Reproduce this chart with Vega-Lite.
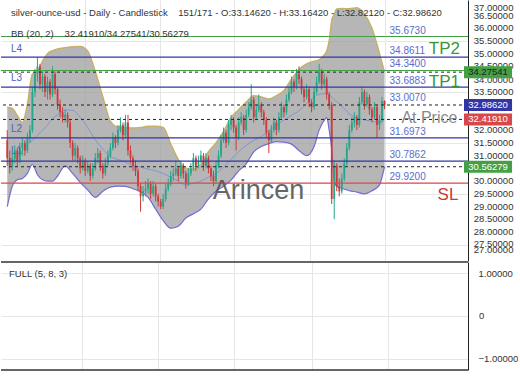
{
  "$schema": "https://vega.github.io/schema/vega-lite/v6.json",
  "padding": 0,
  "spacing": 0,
  "background": "white",
  "config": {
    "view": {"stroke": null},
    "font": "Liberation Sans",
    "axis": {"gridColor": "#e6e6e6", "domainColor": "#222222", "ticks": false, "title": null, "labels": false}
  },
  "datasets": {
    "ohlc": [
      {"i":0,"o":31.6,"h":32.0,"l":30.6,"c":30.9},{"i":1,"o":30.9,"h":31.2,"l":30.3,"c":30.6},{"i":2,"o":30.6,"h":31.1,"l":30.4,"c":30.9},{"i":3,"o":30.9,"h":31.4,"l":30.7,"c":31.2},{"i":4,"o":31.2,"h":31.3,"l":30.6,"c":30.8},
      {"i":5,"o":30.8,"h":31.5,"l":30.7,"c":31.3},{"i":6,"o":31.3,"h":31.7,"l":31.0,"c":31.5},{"i":7,"o":31.5,"h":31.6,"l":31.0,"c":31.2},{"i":8,"o":31.2,"h":31.9,"l":31.1,"c":31.7},{"i":9,"o":31.7,"h":32.2,"l":31.5,"c":32.0},
      {"i":10,"o":32.0,"h":33.7,"l":31.9,"c":33.5},{"i":11,"o":33.5,"h":34.4,"l":33.3,"c":34.2},{"i":12,"o":34.2,"h":34.85,"l":33.9,"c":34.5},{"i":13,"o":34.5,"h":34.6,"l":33.6,"c":33.8},{"i":14,"o":33.8,"h":34.3,"l":33.5,"c":34.1},
      {"i":15,"o":34.1,"h":34.2,"l":33.3,"c":33.5},{"i":16,"o":33.5,"h":34.1,"l":33.2,"c":33.9},{"i":17,"o":33.9,"h":34.0,"l":33.2,"c":33.4},{"i":18,"o":33.4,"h":34.5,"l":33.3,"c":34.2},{"i":19,"o":34.2,"h":34.3,"l":33.4,"c":33.6},
      {"i":20,"o":33.6,"h":33.7,"l":32.8,"c":33.0},{"i":21,"o":33.0,"h":33.2,"l":32.5,"c":32.7},{"i":22,"o":32.7,"h":32.9,"l":32.3,"c":32.5},{"i":23,"o":32.5,"h":32.8,"l":32.3,"c":32.6},{"i":24,"o":32.6,"h":32.7,"l":32.1,"c":32.3},
      {"i":25,"o":32.3,"h":32.4,"l":31.3,"c":31.5},{"i":26,"o":31.5,"h":31.6,"l":30.8,"c":31.0},{"i":27,"o":31.0,"h":31.5,"l":30.8,"c":31.3},{"i":28,"o":31.3,"h":31.4,"l":30.7,"c":30.9},{"i":29,"o":30.9,"h":31.0,"l":30.3,"c":30.5},
      {"i":30,"o":30.5,"h":31.0,"l":30.4,"c":30.8},{"i":31,"o":30.8,"h":30.9,"l":30.2,"c":30.4},{"i":32,"o":30.4,"h":30.8,"l":30.3,"c":30.6},{"i":33,"o":30.6,"h":30.7,"l":30.0,"c":30.2},{"i":34,"o":30.2,"h":30.7,"l":30.1,"c":30.5},
      {"i":35,"o":30.5,"h":31.1,"l":30.4,"c":30.9},{"i":36,"o":30.9,"h":31.3,"l":30.7,"c":31.1},{"i":37,"o":31.1,"h":31.2,"l":30.4,"c":30.6},{"i":38,"o":30.6,"h":30.7,"l":30.1,"c":30.3},{"i":39,"o":30.3,"h":30.9,"l":30.2,"c":30.7},
      {"i":40,"o":30.7,"h":31.2,"l":30.6,"c":31.0},{"i":41,"o":31.0,"h":31.5,"l":30.9,"c":31.3},{"i":42,"o":31.3,"h":31.9,"l":31.2,"c":31.7},{"i":43,"o":31.7,"h":31.8,"l":31.3,"c":31.5},{"i":44,"o":31.5,"h":32.2,"l":31.4,"c":32.0},
      {"i":45,"o":32.0,"h":32.5,"l":31.9,"c":32.2},{"i":46,"o":32.2,"h":32.3,"l":31.6,"c":31.8},{"i":47,"o":31.8,"h":32.6,"l":31.7,"c":32.3},{"i":48,"o":32.3,"h":32.6,"l":31.0,"c":31.2},{"i":49,"o":31.2,"h":31.4,"l":30.7,"c":30.9},
      {"i":50,"o":30.9,"h":31.0,"l":30.4,"c":30.6},{"i":51,"o":30.6,"h":30.8,"l":30.2,"c":30.4},{"i":52,"o":30.4,"h":30.5,"l":29.6,"c":29.8},{"i":53,"o":29.8,"h":29.9,"l":28.8,"c":29.4},{"i":54,"o":29.4,"h":29.8,"l":29.2,"c":29.6},
      {"i":55,"o":29.6,"h":30.0,"l":29.4,"c":29.7},{"i":56,"o":29.7,"h":30.1,"l":29.5,"c":29.9},{"i":57,"o":29.9,"h":30.0,"l":29.3,"c":29.5},{"i":58,"o":29.5,"h":30.0,"l":29.4,"c":29.8},{"i":59,"o":29.8,"h":29.9,"l":29.2,"c":29.4},
      {"i":60,"o":29.4,"h":29.5,"l":29.0,"c":29.2},{"i":61,"o":29.2,"h":29.3,"l":28.9,"c":29.0},{"i":62,"o":29.0,"h":29.5,"l":28.9,"c":29.3},{"i":63,"o":29.3,"h":29.9,"l":29.2,"c":29.7},{"i":64,"o":29.7,"h":30.1,"l":29.6,"c":29.9},
      {"i":65,"o":29.9,"h":30.4,"l":29.8,"c":30.2},{"i":66,"o":30.2,"h":30.5,"l":30.0,"c":30.3},{"i":67,"o":30.3,"h":30.8,"l":30.2,"c":30.5},{"i":68,"o":30.5,"h":30.6,"l":30.0,"c":30.2},{"i":69,"o":30.2,"h":30.8,"l":30.1,"c":30.6},
      {"i":70,"o":30.6,"h":30.7,"l":30.1,"c":30.3},{"i":71,"o":30.3,"h":30.4,"l":29.7,"c":29.9},{"i":72,"o":29.9,"h":30.5,"l":29.8,"c":30.3},{"i":73,"o":30.3,"h":30.7,"l":30.2,"c":30.5},{"i":74,"o":30.5,"h":31.1,"l":30.4,"c":30.9},
      {"i":75,"o":30.9,"h":31.0,"l":30.4,"c":30.6},{"i":76,"o":30.6,"h":31.0,"l":30.5,"c":30.8},{"i":77,"o":30.8,"h":31.2,"l":30.7,"c":31.0},{"i":78,"o":31.0,"h":31.1,"l":30.4,"c":30.6},{"i":79,"o":30.6,"h":31.1,"l":30.5,"c":30.9},
      {"i":80,"o":30.9,"h":31.0,"l":30.3,"c":30.5},{"i":81,"o":30.5,"h":30.6,"l":30.0,"c":30.2},{"i":82,"o":30.2,"h":30.4,"l":29.8,"c":30.0},{"i":83,"o":30.0,"h":30.8,"l":29.9,"c":30.6},{"i":84,"o":30.6,"h":31.2,"l":30.5,"c":31.0},
      {"i":85,"o":31.0,"h":31.8,"l":30.9,"c":31.6},{"i":86,"o":31.6,"h":32.1,"l":31.5,"c":31.9},{"i":87,"o":31.9,"h":32.0,"l":31.3,"c":31.5},{"i":88,"o":31.5,"h":32.4,"l":31.4,"c":32.2},{"i":89,"o":32.2,"h":32.6,"l":32.0,"c":32.4},
      {"i":90,"o":32.4,"h":32.5,"l":31.9,"c":32.1},{"i":91,"o":32.1,"h":32.2,"l":31.2,"c":31.7},{"i":92,"o":31.7,"h":32.5,"l":31.6,"c":32.3},{"i":93,"o":32.3,"h":32.7,"l":32.2,"c":32.5},{"i":94,"o":32.5,"h":32.6,"l":31.8,"c":32.0},
      {"i":95,"o":32.0,"h":32.8,"l":31.9,"c":32.6},{"i":96,"o":32.6,"h":33.1,"l":32.5,"c":32.9},{"i":97,"o":32.9,"h":33.8,"l":32.8,"c":33.2},{"i":98,"o":33.2,"h":33.3,"l":32.3,"c":32.5},{"i":99,"o":32.5,"h":33.0,"l":32.4,"c":32.8},
      {"i":100,"o":32.8,"h":33.4,"l":32.7,"c":33.0},{"i":101,"o":33.0,"h":33.1,"l":32.5,"c":32.7},{"i":102,"o":32.7,"h":32.8,"l":32.2,"c":32.4},{"i":103,"o":32.4,"h":32.5,"l":31.7,"c":31.9},{"i":104,"o":31.9,"h":32.0,"l":31.1,"c":31.6},
      {"i":105,"o":31.6,"h":32.2,"l":31.5,"c":32.0},{"i":106,"o":32.0,"h":32.5,"l":31.9,"c":32.3},{"i":107,"o":32.3,"h":32.4,"l":31.8,"c":32.0},{"i":108,"o":32.0,"h":32.7,"l":31.9,"c":32.5},{"i":109,"o":32.5,"h":33.1,"l":32.4,"c":32.9},
      {"i":110,"o":32.9,"h":33.0,"l":32.5,"c":32.7},{"i":111,"o":32.7,"h":33.4,"l":32.6,"c":33.2},{"i":112,"o":33.2,"h":33.7,"l":33.1,"c":33.5},{"i":113,"o":33.5,"h":34.1,"l":33.4,"c":33.9},{"i":114,"o":33.9,"h":34.0,"l":33.5,"c":33.7},
      {"i":115,"o":33.7,"h":34.4,"l":33.6,"c":34.2},{"i":116,"o":34.2,"h":34.5,"l":33.8,"c":34.0},{"i":117,"o":34.0,"h":34.1,"l":33.4,"c":33.6},{"i":118,"o":33.6,"h":33.7,"l":33.1,"c":33.3},{"i":119,"o":33.3,"h":33.8,"l":33.2,"c":33.6},
      {"i":120,"o":33.6,"h":33.7,"l":32.9,"c":33.1},{"i":121,"o":33.1,"h":33.2,"l":32.7,"c":32.9},{"i":122,"o":32.9,"h":33.7,"l":32.8,"c":33.5},{"i":123,"o":33.5,"h":34.1,"l":33.4,"c":33.9},{"i":124,"o":33.9,"h":34.6,"l":33.8,"c":34.3},
      {"i":125,"o":34.3,"h":34.4,"l":33.6,"c":33.8},{"i":126,"o":33.8,"h":34.2,"l":33.7,"c":34.0},{"i":127,"o":34.0,"h":34.1,"l":33.2,"c":33.4},{"i":128,"o":33.4,"h":33.5,"l":32.8,"c":33.0},{"i":129,"o":33.0,"h":33.1,"l":29.1,"c":29.3},
      {"i":130,"o":29.3,"h":30.8,"l":28.5,"c":30.6},{"i":131,"o":30.6,"h":30.7,"l":29.6,"c":29.8},{"i":132,"o":29.8,"h":30.1,"l":29.4,"c":29.6},{"i":133,"o":29.6,"h":30.3,"l":29.5,"c":30.1},{"i":134,"o":30.1,"h":30.9,"l":30.0,"c":30.7},
      {"i":135,"o":30.7,"h":31.5,"l":30.6,"c":31.3},{"i":136,"o":31.3,"h":32.2,"l":31.2,"c":32.0},{"i":137,"o":32.0,"h":32.5,"l":31.9,"c":32.3},{"i":138,"o":32.3,"h":32.7,"l":32.1,"c":32.5},{"i":139,"o":32.5,"h":32.6,"l":32.0,"c":32.2},
      {"i":140,"o":32.2,"h":33.3,"l":32.1,"c":33.1},{"i":141,"o":33.1,"h":33.7,"l":33.0,"c":33.5},{"i":142,"o":33.5,"h":33.6,"l":32.8,"c":33.0},{"i":143,"o":33.0,"h":33.5,"l":32.9,"c":33.3},{"i":144,"o":33.3,"h":33.4,"l":32.6,"c":32.8},
      {"i":145,"o":32.8,"h":32.9,"l":32.3,"c":32.5},{"i":146,"o":32.5,"h":33.1,"l":32.4,"c":32.9},{"i":147,"o":32.9,"h":33.0,"l":31.7,"c":32.2},{"i":148,"o":32.2,"h":32.6,"l":32.0,"c":32.4},{"i":149,"o":32.4,"h":33.3,"l":32.3,"c":33.146},
      {"i":150,"o":33.1462,"h":33.1642,"l":32.8212,"c":32.9862}
    ],
    "bb": [
      {"i":0,"u":32.9,"m":30.68,"lo":29.0},{"i":2,"u":32.85,"m":30.8,"lo":29.8},{"i":4,"u":32.57,"m":30.95,"lo":30.05},{"i":6,"u":32.3,"m":31.2,"lo":30.1},{"i":8,"u":33.0,"m":31.45,"lo":30.3},
      {"i":10,"u":34.2,"m":31.6,"lo":30.65},{"i":12,"u":34.3,"m":31.8,"lo":30.25},{"i":14,"u":34.7,"m":32.0,"lo":30.05},{"i":16,"u":35.0,"m":32.2,"lo":30.0},{"i":18,"u":35.12,"m":32.45,"lo":30.0},
      {"i":20,"u":35.18,"m":32.6,"lo":30.2},{"i":23,"u":35.23,"m":32.79,"lo":30.6},{"i":26,"u":35.27,"m":32.78,"lo":30.3},{"i":29,"u":35.28,"m":32.5,"lo":29.95},{"i":32,"u":35.1,"m":32.1,"lo":29.65},
      {"i":35,"u":34.3,"m":31.62,"lo":29.36},{"i":38,"u":33.3,"m":31.25,"lo":29.6},{"i":41,"u":32.35,"m":30.97,"lo":29.76},{"i":44,"u":32.12,"m":30.85,"lo":29.8},{"i":47,"u":32.1,"m":30.75,"lo":29.79},
      {"i":50,"u":32.08,"m":30.6,"lo":29.7},{"i":53,"u":32.1,"m":30.55,"lo":29.58},{"i":56,"u":32.15,"m":30.47,"lo":29.36},{"i":59,"u":32.15,"m":30.4,"lo":28.9},{"i":62,"u":32.1,"m":30.3,"lo":28.45},
      {"i":65,"u":31.45,"m":30.15,"lo":28.15},{"i":68,"u":30.85,"m":30.0,"lo":28.23},{"i":71,"u":30.5,"m":29.85,"lo":28.55},{"i":74,"u":30.47,"m":29.92,"lo":28.72},{"i":77,"u":30.65,"m":30.0,"lo":28.9},
      {"i":80,"u":31.15,"m":30.15,"lo":29.3},{"i":83,"u":31.5,"m":30.3,"lo":29.6},{"i":86,"u":31.95,"m":30.55,"lo":29.8},{"i":89,"u":32.5,"m":30.85,"lo":30.04},{"i":92,"u":32.8,"m":31.15,"lo":30.4},
      {"i":95,"u":33.1,"m":31.4,"lo":30.68},{"i":98,"u":33.35,"m":31.6,"lo":31.15},{"i":101,"u":33.3,"m":31.74,"lo":31.36},{"i":104,"u":33.22,"m":31.98,"lo":31.47},{"i":107,"u":33.35,"m":32.2,"lo":31.55},
      {"i":110,"u":33.55,"m":32.4,"lo":31.53},{"i":113,"u":34.0,"m":32.58,"lo":31.45},{"i":116,"u":34.38,"m":32.76,"lo":31.2},{"i":119,"u":34.6,"m":33.05,"lo":31.0},{"i":122,"u":34.7,"m":33.3,"lo":31.36},
      {"i":124,"u":34.76,"m":33.4,"lo":32.0},{"i":126,"u":34.95,"m":33.43,"lo":32.38},{"i":127,"u":35.1,"m":33.43,"lo":32.49},{"i":128,"u":35.5,"m":33.4,"lo":32.0},{"i":129,"u":36.3,"m":33.3,"lo":31.25},
      {"i":130,"u":36.55,"m":33.2,"lo":30.0},{"i":131,"u":36.75,"m":33.12,"lo":29.8},{"i":133,"u":36.77,"m":32.95,"lo":29.72},{"i":136,"u":36.76,"m":32.64,"lo":29.62},{"i":139,"u":36.8,"m":32.48,"lo":29.57},
      {"i":142,"u":36.55,"m":32.4,"lo":29.5},{"i":145,"u":36.0,"m":32.35,"lo":29.62},{"i":148,"u":35.0,"m":32.3,"lo":29.85},{"i":150,"u":34.27541,"m":32.4191,"lo":30.56279}
    ]
  },
  "vconcat": [
    {
      "width": 467,
      "height": 261,
      "layer": [
        {
          "data": {"name": "bb"},
          "mark": {"type": "area", "interpolate": "monotone", "color": "#9e9e9e", "opacity": 0.75},
          "encoding": {
            "x": {"field": "i", "type": "quantitative", "scale": {"domain": [-0.5, 181.2], "nice": false, "zero": false}, "axis": {"values": [31, 60.6, 90.2, 120.5, 150.1], "domain": false, "grid": true}},
            "y": {"field": "u", "type": "quantitative", "scale": {"domain": [27.06, 36.91], "nice": false, "zero": false}, "axis": {"orient": "right", "values": [27.5, 28, 28.5, 29, 29.5, 30, 30.5, 31, 31.5, 32, 32.5, 33, 33.5, 34, 34.5, 35, 35.5, 36, 36.5], "grid": true}},
            "y2": {"field": "lo"}
          }
        },
        {
          "data": {"name": "bb"},
          "mark": {"type": "line", "interpolate": "monotone", "color": "#c8b06a", "strokeWidth": 1.5},
          "encoding": {"x": {"field": "i", "type": "quantitative"}, "y": {"field": "u", "type": "quantitative"}}
        },
        {
          "data": {"name": "bb"},
          "mark": {"type": "line", "interpolate": "monotone", "color": "#716cd6", "strokeWidth": 1.2},
          "encoding": {"x": {"field": "i", "type": "quantitative"}, "y": {"field": "lo", "type": "quantitative"}}
        },
        {
          "data": {"name": "bb"},
          "mark": {"type": "line", "interpolate": "monotone", "color": "#6f8fd8", "strokeWidth": 0.8},
          "encoding": {"x": {"field": "i", "type": "quantitative"}, "y": {"field": "m", "type": "quantitative"}}
        },
        {
          "data": {"name": "ohlc"},
          "mark": {"type": "rule", "strokeWidth": 1},
          "encoding": {
            "x": {"field": "i", "type": "quantitative"},
            "y": {"field": "l", "type": "quantitative"},
            "y2": {"field": "h"},
            "color": {"condition": {"test": "datum.c >= datum.o", "value": "#24a68a"}, "value": "#cc3b3b"}
          }
        },
        {
          "data": {"name": "ohlc"},
          "mark": {"type": "bar", "size": 1.8},
          "encoding": {
            "x": {"field": "i", "type": "quantitative"},
            "y": {"field": "o", "type": "quantitative"},
            "y2": {"field": "c"},
            "color": {"condition": {"test": "datum.c >= datum.o", "value": "#24a68a"}, "value": "#cc3b3b"}
          }
        },
        {
          "data": {"values": [{"v": 35.673, "k": "tp"}, {"v": 34.8611, "k": "lv"}, {"v": 34.34, "k": "tp"}, {"v": 33.6883, "k": "lv"}, {"v": 31.6973, "k": "lv"}, {"v": 30.7862, "k": "lv"}, {"v": 29.92, "k": "sl"}]},
          "mark": {"type": "rule", "strokeWidth": 1.2},
          "encoding": {
            "y": {"field": "v", "type": "quantitative"},
            "color": {"field": "k", "type": "nominal", "scale": {"domain": ["tp", "lv", "sl"], "range": ["#45a045", "#3434a4", "#d94848"]}, "legend": null}
          }
        },
        {
          "data": {"values": [{"v": 34.27541}, {"v": 32.9862}, {"v": 32.4191}, {"v": 30.56279}]},
          "mark": {"type": "rule", "strokeWidth": 1, "color": "#222222", "strokeDash": [3, 3]},
          "encoding": {"y": {"field": "v", "type": "quantitative"}}
        },
        {
          "data": {"values": [{"v": 35.673, "t": "35.6730"}, {"v": 34.8611, "t": "34.8611"}, {"v": 34.34, "t": "34.3400"}, {"v": 33.6883, "t": "33.6883"}, {"v": 33.007, "t": "33.0070"}, {"v": 31.6973, "t": "31.6973"}, {"v": 30.7862, "t": "30.7862"}, {"v": 29.92, "t": "29.9200"}]},
          "mark": {"type": "text", "align": "left", "baseline": "bottom", "dy": -1, "fontSize": 10, "color": "#5b6ccc", "font": "Liberation Sans"},
          "encoding": {"x": {"datum": 152.0, "type": "quantitative"}, "y": {"field": "v", "type": "quantitative"}, "text": {"field": "t"}}
        },
        {
          "data": {"values": [{"v": 35.17, "t": "TP2"}, {"v": 33.89, "t": "TP1"}]},
          "mark": {"type": "text", "align": "left", "baseline": "middle", "fontSize": 17, "color": "#3a983a", "font": "Liberation Sans"},
          "encoding": {"x": {"datum": 167.6, "type": "quantitative"}, "y": {"field": "v", "type": "quantitative"}, "text": {"field": "t"}}
        },
        {
          "data": {"values": [{"v": 29.44, "t": "SL"}]},
          "mark": {"type": "text", "align": "left", "baseline": "middle", "fontSize": 17, "color": "#d03535", "font": "Liberation Sans"},
          "encoding": {"x": {"datum": 171.1, "type": "quantitative"}, "y": {"field": "v", "type": "quantitative"}, "text": {"field": "t"}}
        },
        {
          "data": {"values": [{"v": 32.49, "t": "At Price"}]},
          "mark": {"type": "text", "align": "left", "baseline": "middle", "fontSize": 16, "color": "#8a8a8a", "font": "Liberation Sans"},
          "encoding": {"x": {"datum": 156.7, "type": "quantitative"}, "y": {"field": "v", "type": "quantitative"}, "text": {"field": "t"}}
        },
        {
          "data": {"values": [{"v": 35.17, "t": "L4"}, {"v": 34.04, "t": "L3"}, {"v": 32.04, "t": "L2"}, {"v": 31.17, "t": "L1"}]},
          "mark": {"type": "text", "align": "left", "baseline": "middle", "fontSize": 10, "color": "#5060c0", "font": "Liberation Sans"},
          "encoding": {"x": {"datum": 1.45, "type": "quantitative"}, "y": {"field": "v", "type": "quantitative"}, "text": {"field": "t"}}
        },
        {
          "data": {"values": [{"v": 29.62, "t": "Arincen"}]},
          "mark": {"type": "text", "align": "center", "baseline": "middle", "fontSize": 27, "color": "#555555", "opacity": 0.9, "font": "Liberation Sans"},
          "encoding": {"x": {"datum": 99.9, "type": "quantitative"}, "y": {"field": "v", "type": "quantitative"}, "text": {"field": "t"}}
        },
        {
          "data": {"values": [
            {"x": 1.45, "v": 36.6, "t": "silver-ounce-usd - Daily - Candlestick"},
            {"x": 68.0, "v": 36.6, "t": "151/171 - O:33.14620 - H:33.16420 - L:32.82120 - C:32.98620"},
            {"x": 1.45, "v": 35.775, "t": "BB (20, 2)"},
            {"x": 22.8, "v": 35.775, "t": "32.41910/34.27541/30.56279"}
          ]},
          "mark": {"type": "text", "align": "left", "baseline": "middle", "fontSize": 9.5, "color": "#333333", "font": "Liberation Sans"},
          "encoding": {"x": {"field": "x", "type": "quantitative"}, "y": {"field": "v", "type": "quantitative"}, "text": {"field": "t"}}
        },
        {
          "data": {"values": [{"v": 36.8, "t": "37.00000"}, {"v": 36.46, "t": "36.50000"}, {"v": 36.0, "t": "36.00000"}, {"v": 35.5, "t": "35.50000"}, {"v": 35.0, "t": "35.00000"}, {"v": 34.53, "t": "34.50000"}, {"v": 33.97, "t": "34.00000"}, {"v": 33.5, "t": "33.50000"}, {"v": 32.0, "t": "32.00000"}, {"v": 31.5, "t": "31.50000"}, {"v": 31.0, "t": "31.00000"}, {"v": 30.0, "t": "30.00000"}, {"v": 29.5, "t": "29.50000"}, {"v": 29.0, "t": "29.00000"}, {"v": 28.5, "t": "28.50000"}, {"v": 28.0, "t": "28.00000"}, {"v": 27.54, "t": "27.50000"}, {"v": 27.29, "t": "27.00000"}]},
          "mark": {"type": "text", "align": "left", "baseline": "middle", "fontSize": 9.5, "color": "#333333", "font": "Liberation Sans"},
          "encoding": {"x": {"datum": 185.5, "type": "quantitative"}, "y": {"field": "v", "type": "quantitative"}, "text": {"field": "t"}}
        },
        {
          "data": {"values": [{"v": 34.27541, "t": "34.27541"}, {"v": 32.9862, "t": "32.98620"}, {"v": 32.4191, "t": "32.41910"}, {"v": 30.56279, "t": "30.56279"}]},
          "mark": {"type": "bar", "orient": "horizontal", "size": 12},
          "encoding": {
            "x": {"datum": 181.6, "type": "quantitative"},
            "x2": {"datum": 200.7},
            "y": {"field": "v", "type": "quantitative"},
            "color": {"field": "t", "type": "nominal", "scale": {"domain": ["34.27541", "32.98620", "32.41910", "30.56279"], "range": ["#e2a52a", "#e8475a", "#1f8ff0", "#6b40e2"]}, "legend": null}
          }
        },
        {
          "data": {"values": [{"v": 34.27541, "t": "34.27541", "d": "a"}, {"v": 32.9862, "t": "32.98620", "d": "b"}, {"v": 32.4191, "t": "32.41910", "d": "b"}, {"v": 30.56279, "t": "30.56279", "d": "b"}]},
          "mark": {"type": "text", "align": "center", "baseline": "middle", "fontSize": 9.5, "font": "Liberation Sans"},
          "encoding": {
            "x": {"datum": 191.15, "type": "quantitative"},
            "y": {"field": "v", "type": "quantitative"},
            "text": {"field": "t"},
            "color": {"condition": {"test": "datum.d == 'a'", "value": "#222222"}, "value": "#ffffff"}
          }
        }
      ]
    },
    {
      "width": 467,
      "height": 108,
      "layer": [
        {
          "data": {"values": [{"t": "FULL (5, 8, 3)"}]},
          "mark": {"type": "text", "align": "left", "baseline": "middle", "fontSize": 9.5, "color": "#333333", "font": "Liberation Sans"},
          "encoding": {
            "x": {"datum": 2.6, "type": "quantitative", "scale": {"domain": [-0.5, 181.2], "nice": false, "zero": false}, "axis": {"values": [31, 60.6, 90.2, 120.5, 150.1], "domain": false, "grid": true}},
            "y": {"datum": 0.977, "type": "quantitative", "scale": {"domain": [-1.256, 1.256], "nice": false, "zero": false}, "axis": {"orient": "right", "values": [-1, 0, 1], "grid": true, "labels": true, "labelFont": "Liberation Sans", "labelFontSize": 9.5, "labelColor": "#333333", "labelPadding": 10, "labelOverlap": false, "labelExpr": "datum.value == 0 ? '' : format(datum.value, '.5f')"}},
            "text": {"field": "t"}
          }
        },
        {
          "data": {"values": [{"v": 1.256}, {"v": -1.256}]},
          "mark": {"type": "rule", "color": "#333333", "strokeWidth": 1.5},
          "encoding": {"y": {"field": "v", "type": "quantitative"}}
        },
        {
          "data": {"values": [{"v": 0, "t": "0"}]},
          "mark": {"type": "text", "align": "left", "baseline": "middle", "fontSize": 9.5, "color": "#333333", "font": "Liberation Sans"},
          "encoding": {"x": {"datum": 185.5, "type": "quantitative"}, "y": {"field": "v", "type": "quantitative"}, "text": {"field": "t"}}
        }
      ]
    }
  ]
}
